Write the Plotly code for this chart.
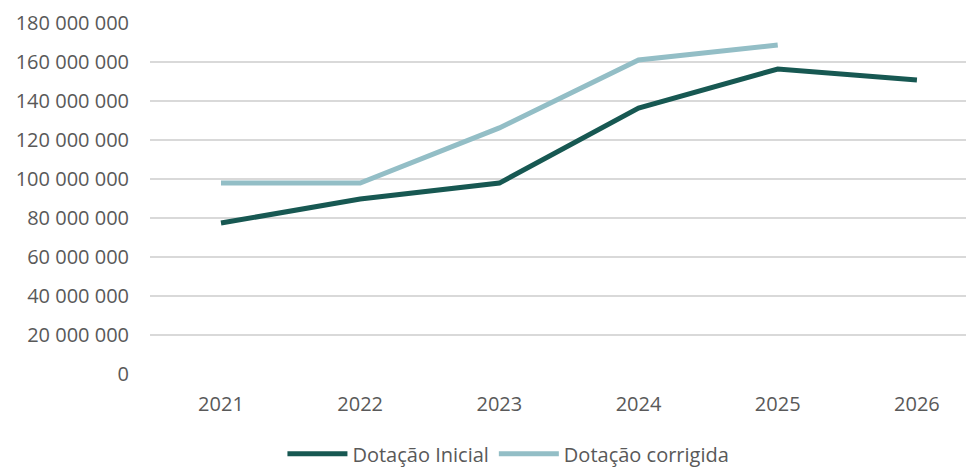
import plotly.graph_objects as go

years = ["2021", "2022", "2023", "2024", "2025", "2026"]
dotacao_inicial = [77_400_000, 89_700_000, 97_900_000, 136_400_000, 156_400_000, 150_800_000]
dotacao_corrigida = [97_900_000, 97_900_000, 126_200_000, 161_000_000, 168_700_000, None]
y_ticks = [0, 20_000_000, 40_000_000, 60_000_000, 80_000_000, 100_000_000,
           120_000_000, 140_000_000, 160_000_000, 180_000_000]

fig = go.Figure()
fig.add_trace(go.Scatter(x=years, y=dotacao_inicial, mode="lines", name="Dotação Inicial",
                         line=dict(color="#175852", width=5)))
fig.add_trace(go.Scatter(x=years, y=dotacao_corrigida, mode="lines", name="Dotação corrigida",
                         line=dict(color="#93bec6", width=5)))

fig.update_layout(
    width=966, height=462,
    margin=dict(l=142, r=0, t=15, b=96, autoexpand=False),
    paper_bgcolor="white", plot_bgcolor="white",
    separators=", ",
    font=dict(family="Open Sans", size=20, color="#595959"),
    showlegend=True,
    legend=dict(orientation="h", x=0.435, xanchor="center", y=-0.172, yanchor="top",
                font=dict(size=20, color="#595959"), itemwidth=60),
    xaxis=dict(type="category", range=[-0.51, 5.41], showgrid=False, showline=False,
               ticks="", ticklabelstandoff=16, zeroline=False, automargin=False),
    yaxis=dict(range=[0, 180_000_000], tickvals=y_ticks, tickformat=",d",
               showgrid=True, gridcolor="#d9d9d9", gridwidth=1.5, zeroline=False,
               showline=False, ticks="", ticklabelstandoff=20, automargin=False),
)

fig.write_html("out.html")
